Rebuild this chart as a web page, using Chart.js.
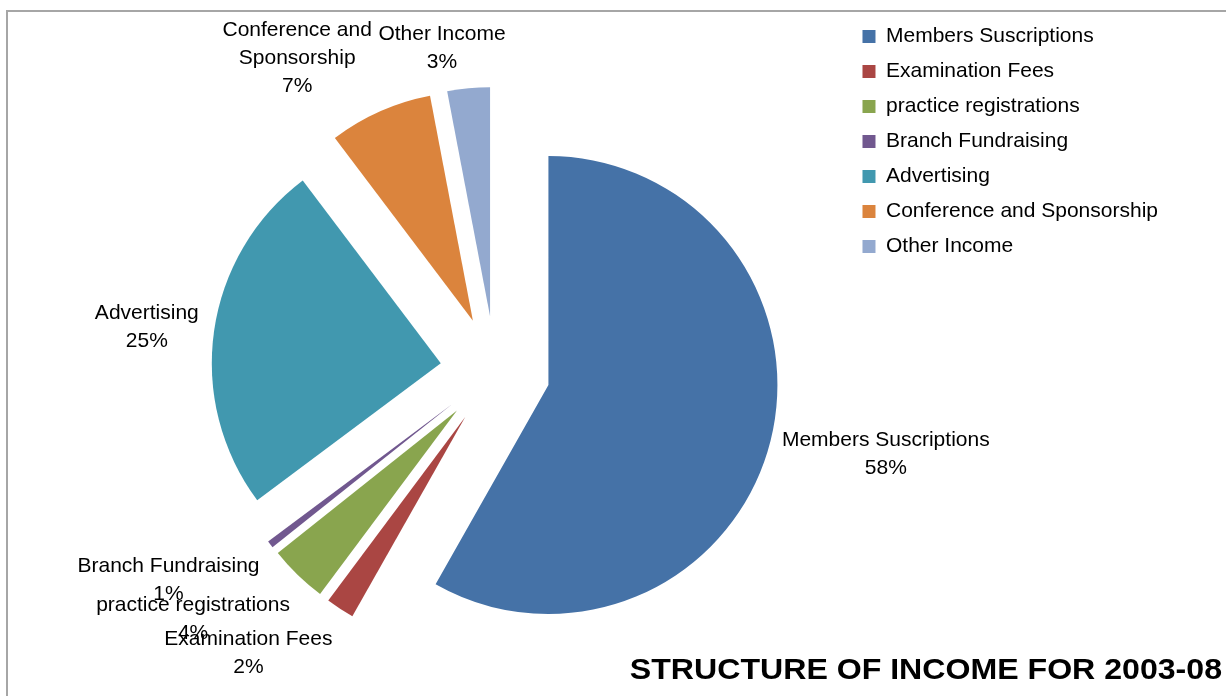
<!DOCTYPE html>
<html>
<head>
<meta charset="utf-8">
<script src="https://cdn.jsdelivr.net/npm/chart.js@4.4.1/dist/chart.umd.min.js"></script>
<style>
html, body { margin: 0; padding: 0; background: #fff; overflow: hidden; }
#wrap { position: relative; width: 1226px; height: 696px; overflow: hidden; }
#frame { position: absolute; left: 6px; top: 10px; width: 1240px; height: 700px;
         border-left: 2px solid #a6a6a6; border-top: 2px solid #a6a6a6; pointer-events: none; }
canvas { position: absolute; left: 0; top: 0; }
</style>
</head>
<body>
<div id="wrap">
  <canvas id="c" width="1226" height="730"></canvas>
  <div id="frame"></div>
</div>
<script>
// ---- data ----
const categories = [
  'Members Suscriptions',
  'Examination Fees',
  'practice registrations',
  'Branch Fundraising',
  'Advertising',
  'Conference and Sponsorship',
  'Other Income'
];
const shares = [58.2, 2.0, 4.1, 0.5, 24.9, 7.3, 3.0];
const chartTitle = 'STRUCTURE OF INCOME FOR 2003-08';

// ---- styles ----
const sliceColors = ['#4572A7', '#AA4643', '#89A54E', '#71588F', '#4198AF', '#DB843D', '#93A9CF'];
const FONT = "'Liberation Sans', Arial, Helvetica, sans-serif";

// Exploded pie: each slice is pushed out along its mid angle without resizing it
class ExplodedArc extends Chart.ArcElement {
  static id = 'explodedArc';
  draw(ctx) {
    const p = this.getProps(['x', 'y', 'startAngle', 'endAngle', 'outerRadius']);
    const dist = this.options.offset || 0;
    const mid = (p.startAngle + p.endAngle) / 2;
    ctx.save();
    ctx.translate(Math.cos(mid) * dist, Math.sin(mid) * dist);
    ctx.beginPath();
    ctx.moveTo(p.x, p.y);
    ctx.arc(p.x, p.y, p.outerRadius, p.startAngle, p.endAngle);
    ctx.closePath();
    ctx.fillStyle = this.options.backgroundColor;
    ctx.fill();
    ctx.restore();
  }
}
class ExplodedPie extends Chart.PieController {
  static id = 'explodedPie';
  static defaults = { dataElementType: 'explodedArc' };
}
Chart.register(ExplodedArc, ExplodedPie);

function wrapText(ctx, text, maxWidth) {
  const words = text.split(' ');
  const lines = [];
  let cur = '';
  words.forEach(w => {
    const test = cur ? cur + ' ' + w : w;
    if (cur && ctx.measureText(test).width > maxWidth) { lines.push(cur); cur = w; }
    else cur = test;
  });
  if (cur) lines.push(cur);
  return lines;
}

const sliceLabels = {
  id: 'sliceLabels',
  afterDatasetsDraw(chart, args, opts) {
    const ctx = chart.ctx;
    const meta = chart.getDatasetMeta(0);
    const data = chart.data.datasets[0].data;
    const total = data.reduce((a, b) => a + b, 0);
    ctx.save();
    ctx.font = opts.font;
    ctx.fillStyle = opts.color;
    ctx.textAlign = 'center';
    ctx.textBaseline = 'middle';
    meta.data.forEach((arc, i) => {
      const p = arc.getProps(['x', 'y', 'startAngle', 'endAngle', 'outerRadius'], true);
      const mid = (p.startAngle + p.endAngle) / 2;
      const dx = Math.cos(mid), dy = Math.sin(mid);
      const lines = wrapText(ctx, chart.data.labels[i], opts.maxWidth)
        .concat([Math.round(data[i] / total * 100) + '%']);
      const w = Math.max(...lines.map(l => ctx.measureText(l).width));
      const h = lines.length * opts.lineHeight;
      const D = p.outerRadius + (arc.options.offset || 0) + opts.gap;
      const n = (opts.nudge && opts.nudge[i]) || [0, 0];
      const cx = p.x + dx * D + dx * w / 2 + n[0];
      const cy = p.y + dy * D + dy * h / 2 + n[1];
      lines.forEach((l, k) => ctx.fillText(l, cx, cy - h / 2 + opts.lineHeight * (k + 0.5)));
    });
    ctx.restore();
  }
};

const cornerTitle = {
  id: 'cornerTitle',
  afterDraw(chart, args, opts) {
    const ctx = chart.ctx;
    ctx.save();
    ctx.font = opts.font;
    ctx.fillStyle = opts.color;
    ctx.textAlign = 'right';
    ctx.textBaseline = 'alphabetic';
    ctx.translate(opts.x, opts.y);
    ctx.scale(opts.stretch, 1);
    ctx.fillText(opts.text, 0, 0);
    ctx.restore();
  }
};

new Chart(document.getElementById('c'), {
  type: 'explodedPie',
  data: {
    labels: categories,
    datasets: [{
      data: shares,
      backgroundColor: sliceColors,
      borderWidth: 0,
      offset: 55
    }]
  },
  options: {
    responsive: false,
    animation: false,
    radius: 229,
    layout: { padding: { left: 142, right: 58, top: 12, bottom: 0 } },
    plugins: {
      legend: {
        position: 'right',
        align: 'start',
        labels: {
          boxWidth: 13,
          boxHeight: 13,
          padding: 14,
          color: '#000',
          font: { family: FONT, size: 21 }
        }
      },
      tooltip: { enabled: false },
      sliceLabels: {
        font: '21px ' + FONT,
        color: '#000',
        lineHeight: 28,
        maxWidth: 220,
        gap: 16,
        nudge: [[0, 0], [-37, 7], [-26, 13], [-17, 9], [0, 2], [-46, 0], [-19, 4]]
      },
      cornerTitle: {
        text: chartTitle,
        font: 'bold 30px ' + FONT,
        color: '#000',
        stretch: 1.07,
        x: 1222,
        y: 679
      }
    }
  },
  plugins: [sliceLabels, cornerTitle]
});
</script>
</body>
</html>
